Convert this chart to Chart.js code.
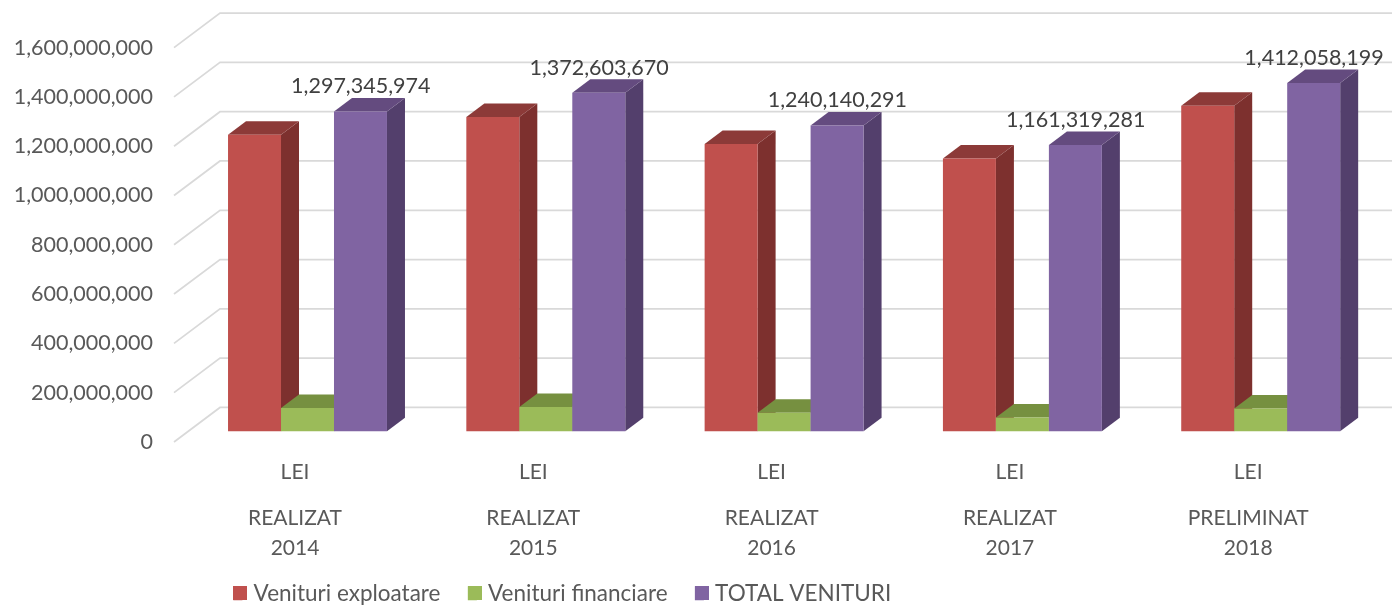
<!DOCTYPE html>
<html>
<head>
<meta charset="utf-8">
<title>Venituri</title>
<script src="https://cdn.jsdelivr.net/npm/chart.js@4"></script>
<style>
    html, body { margin: 0; padding: 0; background: #fff; overflow: hidden; }
    canvas { display: block; }
</style>
</head>
<body>
<canvas id="grafic" width="1392" height="605"></canvas>
<script>
const moneda = ['LEI', 'LEI', 'LEI', 'LEI', 'LEI'];
const perioade = [
    ['REALIZAT', '2014'],
    ['REALIZAT', '2015'],
    ['REALIZAT', '2016'],
    ['REALIZAT', '2017'],
    ['PRELIMINAT', '2018']
];
const venituriExploatare = [1203000000, 1274600000, 1165000000, 1106000000, 1320000000];
const venituriFinanciare = [94000000, 98000000, 75000000, 55000000, 92000000];
const totalVenituri = [1297345974, 1372603670, 1240140291, 1161319281, 1412058199];

const FONT = 'Lato, sans-serif';
const TEXT_AXA = '#595959';

// depth of the fake 3D, in pixels
const BAR_DX = 18;
const BAR_DY = 13.5;
const WALL_DX = 46;
const WALL_DY = 34.5;
const WALL_FRONT = 10.8; // wall front edge sits this far below the bar base
const WALL_LEFT = 174;

function poligon(ctx, culoare, puncte) {
    ctx.fillStyle = culoare;
    ctx.beginPath();
    puncte.forEach((p, i) => i ? ctx.lineTo(p[0], p[1]) : ctx.moveTo(p[0], p[1]));
    ctx.closePath();
    ctx.fill();
}

function desenPereti(chart) {
    const ctx = chart.ctx;
    const y = chart.scales.y;
    ctx.save();
    ctx.strokeStyle = '#d9d9d9';
    ctx.lineWidth = 1.75;
    y.ticks.forEach(t => {
        const py = y.getPixelForValue(t.value) + WALL_FRONT;
        ctx.beginPath();
        ctx.moveTo(WALL_LEFT, py);
        ctx.lineTo(WALL_LEFT + WALL_DX, py - WALL_DY);
        ctx.lineTo(chart.width, py - WALL_DY);
        ctx.stroke();
    });
    ctx.restore();
}

function desenLaturi(chart, index) {
    const ctx = chart.ctx;
    const ds = chart.data.datasets[index];
    chart.getDatasetMeta(index).data.forEach(bar => {
        const st = bar.x - bar.width / 2;
        const dr = bar.x + bar.width / 2;
        poligon(ctx, ds.culoareLateral, [
            [dr, bar.y], [dr + BAR_DX, bar.y - BAR_DY],
            [dr + BAR_DX, bar.base - BAR_DY], [dr, bar.base]
        ]);
        poligon(ctx, ds.culoareSus, [
            [st, bar.y], [st + BAR_DX, bar.y - BAR_DY],
            [dr + BAR_DX, bar.y - BAR_DY], [dr, bar.y]
        ]);
    });
}

const bare3d = {
    id: 'bare3d',
    beforeDatasetsDraw(chart) {
        desenPereti(chart);
        // Chart.js deseneaza de la ultimul la primul, aici trebuie invers
        chart.data.datasets.forEach((ds, i) => {
            desenLaturi(chart, i);
            chart.getDatasetMeta(i).controller.draw();
        });
        return false;
    },
    afterDraw(chart) {
        // etichete doar pe total
        const ctx = chart.ctx;
        ctx.save();
        ctx.font = '21.5px ' + FONT;
        ctx.fillStyle = '#404040';
        ctx.textAlign = 'center';
        ctx.textBaseline = 'middle';
        chart.getDatasetMeta(2).data.forEach((bar, i) => {
            ctx.fillText(totalVenituri[i].toLocaleString('en-US'), bar.x + 0.3, bar.y - 25);
        });
        // patratele legendei sunt mai late decat caseta, spatiul pana la text e mai mic
        chart.legend.legendHitBoxes.forEach((h, i) => {
            ctx.fillStyle = chart.data.datasets[i].backgroundColor;
            ctx.fillRect(Math.round(h.left), Math.round(h.top + (h.height - 14) / 2), 14, 14);
        });
        ctx.restore();
    }
};

// muta legenda spre stanga si in jos, ca in original
const mutaLegenda = {
    id: 'mutaLegenda',
    afterLayout(chart) {
        const l = chart.legend;
        l.left -= 127.65;
        l.right -= 127.65;
        l.top = 554.65;
        l.bottom = l.top + l.height;
    }
};

new Chart(document.getElementById('grafic').getContext('2d'), {
    type: 'bar',
    plugins: [bare3d, mutaLegenda],
    data: {
        labels: moneda,
        datasets: [
            {
                label: 'Venituri exploatare',
                data: venituriExploatare,
                backgroundColor: '#c0504d',
                culoareLateral: '#7d302e',
                culoareSus: '#8c3a38'
            },
            {
                label: 'Venituri financiare',
                data: venituriFinanciare,
                backgroundColor: '#9bbb59',
                culoareLateral: '#6f8a3d',
                culoareSus: '#769040'
            },
            {
                label: 'TOTAL VENITURI',
                data: totalVenituri,
                backgroundColor: '#8064a2',
                culoareLateral: '#533f6c',
                culoareSus: '#644b7f'
            }
        ]
    },
    options: {
        responsive: false,
        animation: false,
        events: [],
        layout: { padding: { top: 36.8, right: 12.15, left: 0, bottom: -21 } },
        datasets: { bar: { categoryPercentage: 0.667, barPercentage: 1 } },
        plugins: {
            tooltip: { enabled: false },
            legend: {
                position: 'bottom',
                labels: {
                    boxWidth: 9,
                    boxHeight: 14,
                    padding: 27.35,
                    color: TEXT_AXA,
                    font: { family: FONT, size: 22.5 }
                }
            }
        },
        scales: {
            y: {
                min: 0,
                max: 1600000000,
                grid: { display: false, drawTicks: false },
                border: { display: false },
                afterFit(scale) {
                    scale.width = 188.35;
                    // padding-ul de la ticks nu trebuie sa impinga zona graficului
                    scale.paddingTop = 0;
                    scale.paddingBottom = 0;
                },
                ticks: {
                    stepSize: 200000000,
                    padding: 35.35,
                    labelOffset: 10.8,
                    color: TEXT_AXA,
                    font: { family: FONT, size: 21.5 },
                    callback: v => Number(v).toLocaleString('en-US')
                }
            },
            x: {
                grid: { display: false, drawTicks: false },
                border: { display: false },
                afterFit(scale) { scale.height = 55; },
                ticks: {
                    padding: 28.5,
                    labelOffset: -12.5,
                    maxRotation: 0,
                    autoSkip: false,
                    color: TEXT_AXA,
                    font: { family: FONT, size: 21 }
                }
            },
            x2: {
                type: 'category',
                axis: 'x',
                position: 'bottom',
                labels: perioade,
                grid: { display: false, drawTicks: false },
                border: { display: false },
                afterFit(scale) { scale.height = 80; },
                ticks: {
                    padding: 17.5,
                    labelOffset: -12.5,
                    maxRotation: 0,
                    autoSkip: false,
                    color: TEXT_AXA,
                    font: { family: FONT, size: 21, lineHeight: 1.43 }
                }
            }
        }
    }
});
</script>
</body>
</html>
